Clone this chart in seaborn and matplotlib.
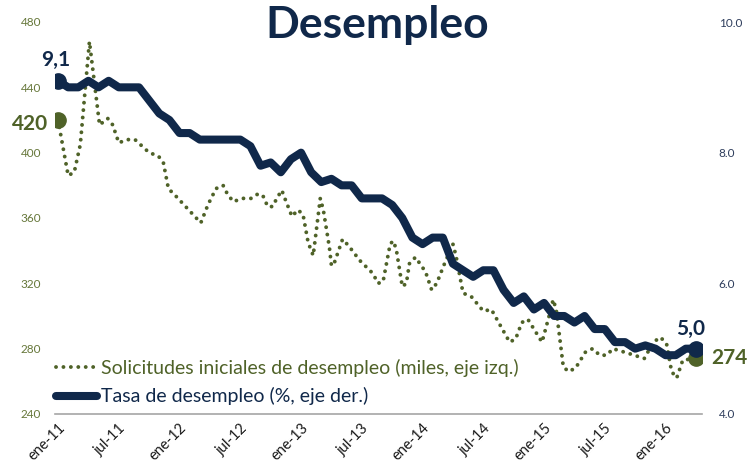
import matplotlib
matplotlib.use("Agg")
import matplotlib.pyplot as plt
import seaborn as sns

NAVY = "#10284a"
OLIVE = "#4f6228"

# mes 0 = ene-11
months = list(range(64))
unemployment = [
    9.1, 9.0, 9.0, 9.1, 9.0, 9.1, 9.0, 9.0, 9.0, 8.8, 8.6, 8.5,
    8.3, 8.3, 8.2, 8.2, 8.2, 8.2, 8.2, 8.1, 7.8, 7.85, 7.7, 7.9,
    8.0, 7.7, 7.55, 7.6, 7.5, 7.5, 7.3, 7.3, 7.3, 7.2, 7.0, 6.7,
    6.6, 6.7, 6.7, 6.3, 6.2, 6.1, 6.2, 6.2, 5.9, 5.7, 5.8, 5.6,
    5.7, 5.5, 5.5, 5.4, 5.5, 5.3, 5.3, 5.1, 5.1, 5.0, 5.05, 5.0,
    4.9, 4.9, 5.0, 5.0,
]

claims_month = [
    0.0, 1.0, 1.6, 2.2, 3.1, 4.1, 4.9, 5.4, 6.0, 6.8, 7.6, 8.3,
    9.0, 9.9, 10.4, 10.9, 11.7, 12.9, 14.1, 14.8, 15.6, 16.3, 16.7, 17.3,
    18.2, 19.1, 19.8, 20.3, 20.7, 21.2, 21.6, 22.1, 22.4, 23.1, 23.7, 24.2,
    24.7, 25.2, 25.9, 26.2, 26.8, 27.0, 27.2, 28.1, 28.7, 29.8, 31.1, 31.6,
    32.1, 32.8, 33.1, 33.4, 34.0, 34.4, 34.7, 35.3, 36.3, 36.9, 37.4, 38.1,
    39.0, 39.3, 40.0, 40.8, 42.0, 42.8, 44.6, 45.2, 45.8, 46.4, 47.8, 48.5,
    48.9, 49.2, 49.9, 50.4, 51.1, 52.1, 52.8, 53.5, 54.2, 54.8, 56.4, 57.9,
    58.8, 59.5, 60.1, 60.6, 61.1, 61.7, 63.0,
]
claims = [
    420, 386, 388, 405, 468, 417, 421, 417, 406, 408, 408, 404,
    400, 398, 394, 378, 373, 365, 357, 368, 378, 380, 375, 370,
    372, 372, 375, 373, 367, 367, 372, 377, 372, 361, 365, 362,
    345, 337, 372, 365, 342, 331, 331, 347, 343, 334, 326, 320,
    321, 344, 346, 341, 318, 320, 332, 336, 327, 316, 320, 331,
    344, 337, 314, 312, 303, 304, 284, 286, 296, 298, 284, 300,
    310, 304, 269, 266, 268, 278, 280, 276, 276, 280, 277, 274,
    284, 287, 283, 266, 262, 273, 274,
]

tick_months = [0, 6, 12, 18, 24, 30, 36, 42, 48, 54, 60]
tick_labels = ["ene-11", "jul-11", "ene-12", "jul-12", "ene-13", "jul-13",
               "ene-14", "jul-14", "ene-15", "jul-15", "ene-16"]

sns.set_theme(style="white")
plt.rcParams["font.family"] = ["Lato", "DejaVu Sans"]

fig = plt.figure(figsize=(7.5, 4.76), dpi=100)
ax = fig.add_axes([55 / 750, 62 / 476, 647 / 750, 392 / 476])
ax2 = ax.twinx()

sns.lineplot(x=claims_month, y=claims, ax=ax, color=OLIVE, linewidth=2.8,
             linestyle=(0, (0.01, 1.9)), dash_capstyle="round",
             label="Solicitudes iniciales de desempleo (miles, eje izq.)")
sns.lineplot(x=months, y=unemployment, ax=ax2, color=NAVY, linewidth=5.8,
             solid_capstyle="round", solid_joinstyle="round",
             label="Tasa de desempleo (%, eje der.)")
for a in (ax, ax2):
    if a.get_legend() is not None:
        a.get_legend().remove()

# puntos de inicio y fin
ax.plot([claims_month[0], claims_month[-1]], [claims[0], claims[-1]], "o",
        color=OLIVE, markersize=11, zorder=5)
ax2.plot([months[0], months[-1]], [unemployment[0], unemployment[-1]], "o",
         color=NAVY, markersize=11, zorder=5)

lab = dict(fontsize=15, fontweight="bold", ha="center", va="center",
           textcoords="offset pixels")
ax2.annotate(f"{unemployment[0]:.1f}".replace(".", ","),
             (months[0], unemployment[0]), xytext=(-2, 21), color=NAVY, **lab)
ax2.annotate(f"{unemployment[-1]:.1f}".replace(".", ","),
             (months[-1], unemployment[-1]), xytext=(-5, 20), color=NAVY, **lab)
ax.annotate(f"{claims[0]}", (claims_month[0], claims[0]), xytext=(-28, -4),
            color=OLIVE, **lab)
ax.annotate(f"{claims[-1]}", (claims_month[-1], claims[-1]), xytext=(33, 0),
            color=OLIVE, **lab)

ax.set_xlim(-0.3, 63.6)
ax.set_ylim(240, 480)
ax2.set_ylim(4, 10)
ax.set_yticks(range(240, 481, 40))
ax2.set_yticks([4, 6, 8, 10])
ax2.set_yticklabels([f"{v:.1f}" for v in [4, 6, 8, 10]])
ax.set_xticks(tick_months)
ax.set_xticklabels(tick_labels, rotation=45, ha="right", rotation_mode="anchor")

ax.tick_params(axis="y", length=0, pad=10, labelsize=8.5, labelcolor="#66773a")
ax2.tick_params(axis="y", length=0, pad=12, labelsize=8.5, labelcolor="#2e3d5c")
ax.tick_params(axis="x", length=0, pad=5, labelsize=10.5, labelcolor="#1a1a1a")

for s in ["left", "right", "top"]:
    ax.spines[s].set_visible(False)
for s in ax2.spines.values():
    s.set_visible(False)
ax.spines["bottom"].set_color("#a6a6a6")
ax.spines["bottom"].set_linewidth(1.2)

h1, l1 = ax.get_legend_handles_labels()
h2, l2 = ax2.get_legend_handles_labels()
fig.legend(h1[:1] + h2[:1], l1[:1] + l2[:1], loc="center left",
           bbox_to_anchor=(56 / 750, 1 - 382 / 476), frameon=False,
           fontsize=14, labelcolor=[OLIVE, NAVY], handlelength=2.1,
           handletextpad=0.2, labelspacing=0.55, borderpad=0, borderaxespad=0)

fig.text(377 / 750, 1 - 38 / 476, "Desempleo", ha="center", va="baseline",
         fontsize=32, fontweight="bold", color=NAVY)

fig.savefig("out.png", dpi=100)
